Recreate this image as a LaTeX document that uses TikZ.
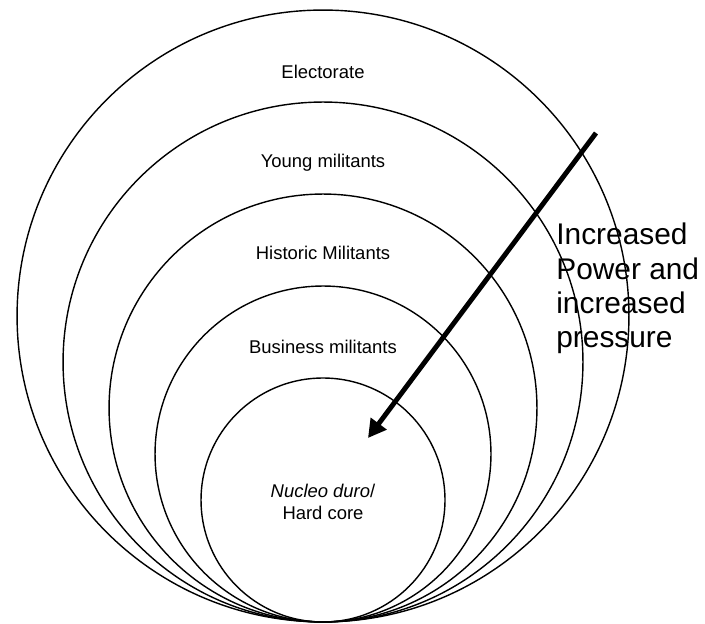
\documentclass[tikz,border=0pt]{standalone}
\usepackage{fontspec}
\setmainfont{Liberation Sans}
\usetikzlibrary{positioning, arrows.meta}

\begin{document}
\begin{tikzpicture}[x=0.02cm, y=0.02cm, font=\fontsize{10.5}{12.6}\selectfont,
    ring/.style={draw, circle, line width=0.8pt, inner sep=0pt}]
  \useasboundingbox (0,0) rectangle (705,624);
  % Nested circles, all touching at the bottom
  \node[ring, minimum size=12.24cm] (electorate) at (323,308) {};
  \node[ring, minimum size=10.40cm] (young) at (323,262) {};
  \node[ring, minimum size=8.56cm] (historic) at (323,216) {};
  \node[ring, minimum size=6.72cm] (business) at (323,170) {};
  \node[ring, minimum size=4.88cm] (core) at (323,124) {};
  % Labels
  \node (electoratelbl) at (323,552) {Electorate};
  \node (younglbl) at (323,461) {Young militants};
  \node (historiclbl) at (323,371) {Historic Militants};
  \node (businesslbl) at (323,277) {Business militants};
  \node[align=center] (corelbl) at (323,122) {\textit{Nucleo duro}/\\Hard core};
  % Pressure arrow
  \coordinate (pstart) at (596,491);
  \coordinate (ptip) at (368,186);
  \draw[line width=2.8pt, -{Triangle[length=3.6mm, width=3.8mm]}] (pstart) -- (ptip);
  \node[font=\fontsize{17}{19.5}\selectfont, align=left, anchor=north west,
        inner sep=0pt] (pressurelbl) at (556,401) {Increased\\Power and\\increased\\pressure};
\end{tikzpicture}
\end{document}
